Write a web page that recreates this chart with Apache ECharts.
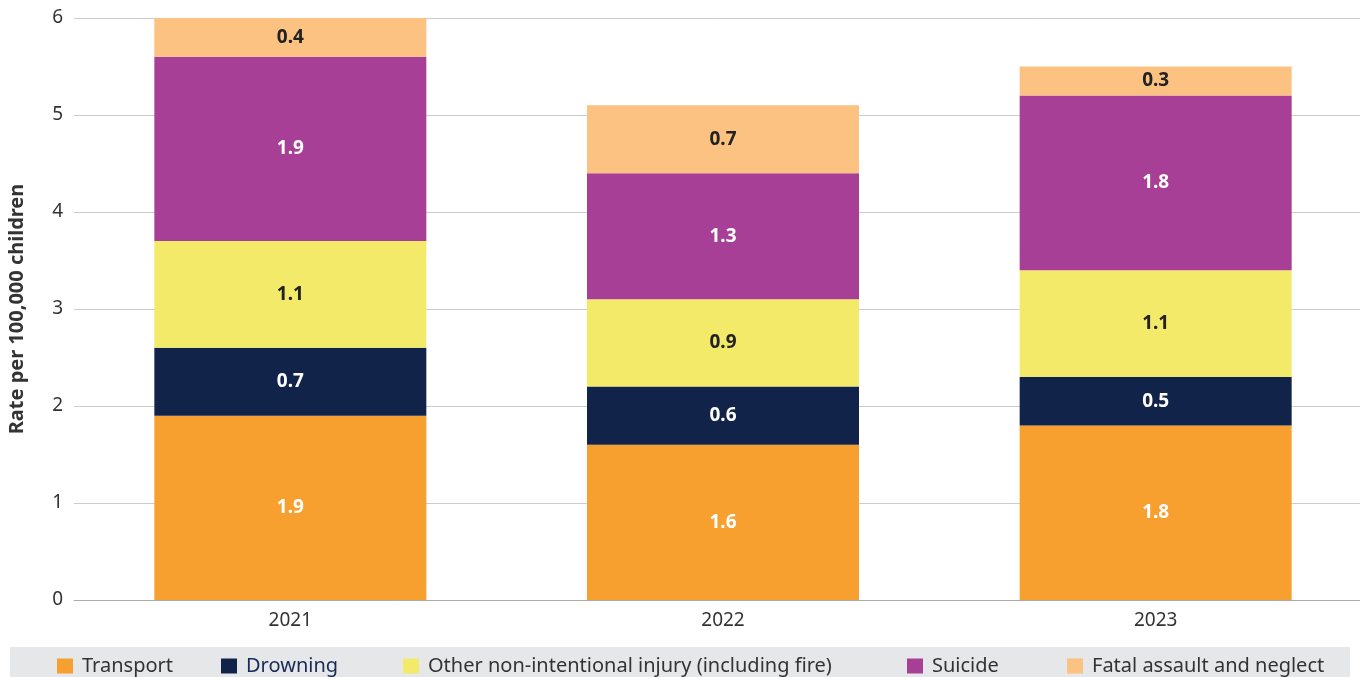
<!DOCTYPE html>
<html><head><meta charset="utf-8">
<script src="https://cdn.jsdelivr.net/npm/echarts@6/dist/echarts.min.js"></script>
<style>html,body{margin:0;padding:0;background:#fff}#c{width:1360px;height:677px}</style>
</head><body><div id="c"></div>
<script>
const categories = ['2021', '2022', '2023'];
const transport = [1.9, 1.6, 1.8];
const drowning = [0.7, 0.6, 0.5];
const otherInjury = [1.1, 0.9, 1.1];
const suicide = [1.9, 1.3, 1.8];
const fatalAssault = [0.4, 0.7, 0.3];
const seriesNames = ['Transport', 'Drowning', 'Other non-intentional injury (including fire)', 'Suicide', 'Fatal assault and neglect'];
const colors = ['#f7a030', '#12234a', '#f2ea68', '#a73f96', '#fbc282'];
const labelColors = ['#ffffff', '#ffffff', '#222222', '#ffffff', '#222222'];
const yTicks = [0, 1, 2, 3, 4, 5, 6];

const font = '"Noto Sans", "Open Sans", sans-serif';
const values = [transport, drowning, otherInjury, suicide, fatalAssault];
const series = values.map((v, i) => ({
  name: seriesNames[i], type: 'bar', stack: 'total', data: v, barWidth: 272,
  itemStyle: { color: colors[i] },
  label: { show: true, position: 'inside', color: labelColors[i], fontFamily: font, fontWeight: 'bold', fontSize: 19,
    formatter: p => p.value.toFixed(1) }
}));
const legendLefts = [52, 216, 398, 902, 1062];
const legends = seriesNames.map((n, i) => ({
  data: [{ name: n, textStyle: { color: i === 1 ? '#1a2a57' : '#333333' } }],
  left: legendLefts[i], top: 650, itemWidth: 16, itemHeight: 15, itemGap: 0,
  icon: 'rect', selectedMode: false,
  textStyle: { fontFamily: font, fontSize: 20, lineHeight: 22, padding: [0, 0, 0, 4] }
}));
const chart = echarts.init(document.getElementById('c'));
chart.setOption({
  animation: false,
  color: colors,
  graphic: [{ type: 'rect', left: 10, top: 647, shape: { width: 1340, height: 30 }, style: { fill: '#e6e7e8' }, z: -1 }],
  legend: legends,
  grid: { left: 74, width: 1298, top: 18, bottom: 77, outerBoundsMode: 'none', containLabel: false },
  xAxis: { type: 'category', data: categories,
    axisLine: { lineStyle: { color: '#aaaaaa' } }, axisTick: { show: false },
    axisLabel: { color: '#333', fontFamily: font, fontSize: 19, margin: 11 } },
  yAxis: { type: 'value', min: yTicks[0], max: yTicks[yTicks.length - 1], interval: 1,
    name: 'Rate per 100,000 children', nameLocation: 'middle', nameGap: 47,
    nameTextStyle: { color: '#333', fontFamily: font, fontSize: 20, fontWeight: 'bold' },
    axisLabel: { color: '#333', fontFamily: font, fontSize: 19, margin: 11 },
    splitLine: { lineStyle: { color: '#cccccc' } } },
  series: series
});
</script></body></html>
